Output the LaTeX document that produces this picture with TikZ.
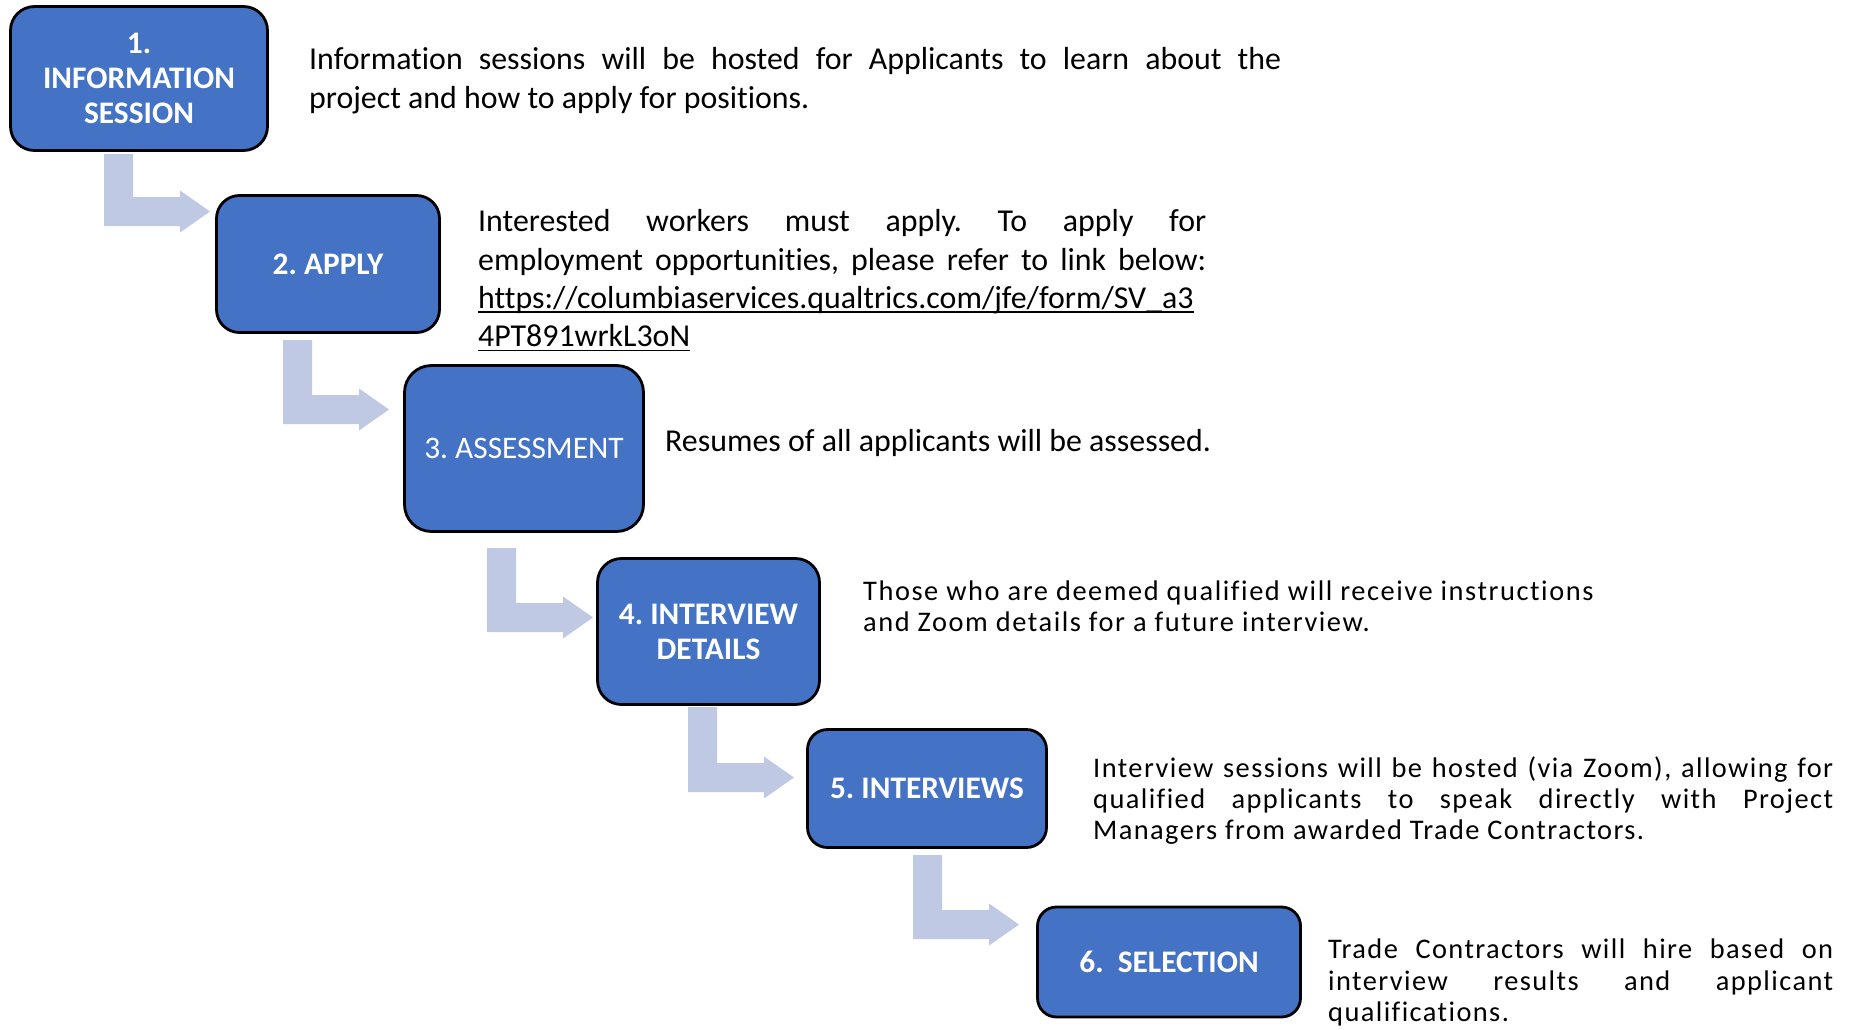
\documentclass[tikz,border=0pt]{standalone}
\usepackage{fontspec}
\setmainfont{Carlito}[Ligatures=NoCommon]
\newfontfamily\spacedfont{Carlito}[LetterSpace=5.5,Ligatures=NoCommon]
\newfontfamily\spacedfontb{Carlito}[LetterSpace=5,Ligatures=NoCommon]
\frenchspacing
\definecolor{boxblue}{HTML}{4472C4}
\definecolor{arrowfillc}{RGB}{191,201,228}
\newcommand\urlline[1]{\setbox0\hbox{#1}\rlap{\rule[-4.5bp]{\wd0}{1.8bp}}\box0}
\newcommand\bentarrow[4]{%
  \fill[arrowfillc] (#1,#2) -- (#1,#3+14.5) -- (#4-30,#3+14.5) -- (#4-30,#3+21)
    -- (#4,#3) -- (#4-30,#3-21) -- (#4-30,#3-14.5) -- (#1+29,#3-14.5)
    -- (#1+29,#2) -- cycle;}
\tikzset{
  stepbox/.style={draw=black, line width=2.8bp, fill=boxblue, text=white,
    font=\fontsize{31.5}{35}\selectfont\bfseries, align=center, inner sep=0pt},
  desc/.style={anchor=north west, inner sep=0pt, align=left,
    font=\fontsize{32}{39}\selectfont},
  descsm/.style={anchor=north west, inner sep=0pt, align=left},
}
\begin{document}
\begin{tikzpicture}[x=1bp, y=-1bp]
\fill[white] (0,0) rectangle (1851,1029);
\useasboundingbox (0,0) rectangle (1851,1029);

% boxes
\node[stepbox, minimum width=257bp, minimum height=144bp, rounded corners=24bp] (b1) at (139,78.5) {1.\\INFORMATION\\SESSION};
\node[stepbox, minimum width=223bp, minimum height=137bp, rounded corners=23bp] (b2) at (328,264) {2. APPLY};
\node[stepbox, minimum width=239bp, minimum height=166bp, rounded corners=27bp, font=\fontsize{31.5}{35}\selectfont] (b3) at (524,448.5) {3. ASSESSMENT};
\node[stepbox, minimum width=222bp, minimum height=146bp, rounded corners=24bp] (b4) at (708.5,631.5) {4. INTERVIEW\\DETAILS};
\node[stepbox, minimum width=239bp, minimum height=118bp, rounded corners=20bp] (b5) at (927,788.5) {5. INTERVIEWS};
\node[stepbox, minimum width=263bp, minimum height=110bp, rounded corners=19bp] (b6) at (1169,962) {6.\ \ SELECTION};

% bent arrows
\bentarrow{104}{154}{211.5}{210}
\bentarrow{283}{340}{409.5}{389}
\bentarrow{487}{548}{617.5}{593}
\bentarrow{688}{707}{777.5}{794}
\bentarrow{913}{855}{924.5}{1019}

% descriptions
\node[desc] (t1) at (309,42) {\strut\makebox[972bp][s]{Information sessions will be hosted for Applicants to learn about the}\\project and how to apply for positions.};

\node[desc, font=\fontsize{32}{38.6}\selectfont] (t2) at (478,204.5) {\strut\makebox[728bp][s]{Interested workers must apply. To apply for}\\\makebox[728bp][s]{employment opportunities, please refer to link below:}\\\urlline{https://columbiaservices.qualtrics.com/jfe/form/SV\_a3}\\\urlline{4PT891wrkL3oN}};

\node[desc] (t3) at (665,424.4) {\strut Resumes of all applicants will be assessed.};

\node[descsm, font=\fontsize{28.5}{31}\spacedfont] (t4) at (863,579) {\strut Those who are deemed qualified will receive instructions\\and Zoom details for a future interview.};

\node[descsm, font=\fontsize{28.5}{31}\spacedfontb] (t5) at (1093,756) {\strut\makebox[740bp][s]{Interview sessions will be hosted (via Zoom), allowing for}\\\makebox[740bp][s]{qualified applicants to speak directly with Project}\\Managers from awarded Trade Contractors.};

\node[descsm, font=\fontsize{28.5}{31.5}\spacedfontb] (t6) at (1328,936.6) {\strut\makebox[505bp][s]{Trade Contractors will hire based on}\\\makebox[505bp][s]{interview results and applicant}\\qualifications.};
\end{tikzpicture}
\end{document}
